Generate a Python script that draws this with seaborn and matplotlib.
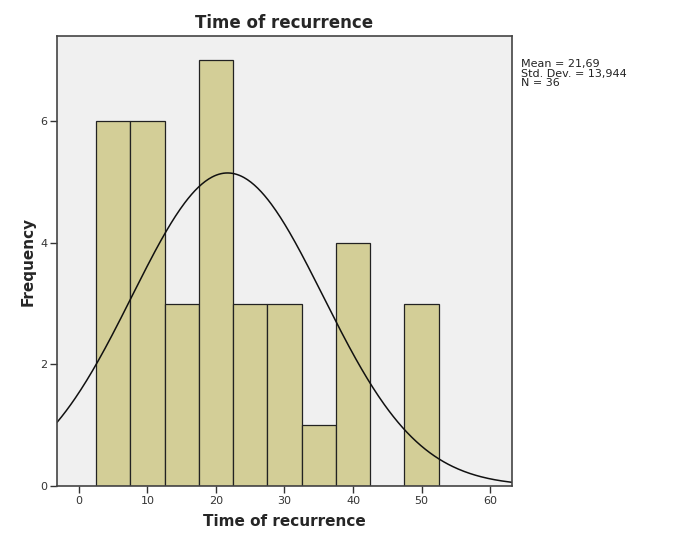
import numpy as np
import pandas as pd
import seaborn as sns
import matplotlib
matplotlib.use('Agg')
import matplotlib.pyplot as plt

## histogram data (bin width 5)
bin_edges = [2.5, 7.5, 12.5, 17.5, 22.5, 27.5, 32.5, 37.5, 42.5, 47.5, 52.5]
counts    = [6, 6, 3, 7, 3, 3, 1, 4, 0, 3]
mean, std, n = 21.69, 13.944, 36

sns.set_style('white')
plt.rcParams['font.family'] = ['DejaVu Sans']

centers = [(a + b) / 2 for a, b in zip(bin_edges[:-1], bin_edges[1:])]
df = pd.DataFrame({'x': centers, 'w': counts})

fig = plt.figure(figsize=(6.85, 5.48), dpi=100)
ax = fig.add_axes([0.0832, 0.1131, 0.6642, 0.8209])
ax.set_facecolor('#f0f0f0')

sns.histplot(data=df, x='x', weights='w', bins=bin_edges, ax=ax,
             color='#d3ce97', alpha=1, edgecolor='#222222', linewidth=0.9)

## fitted normal curve scaled to counts
xs = np.linspace(-3.2, 63.2, 400)
ys = n * 5 / (std * np.sqrt(2 * np.pi)) * np.exp(-0.5 * ((xs - mean) / std) ** 2)
ax.plot(xs, ys, color='#111111', lw=1.1)

ax.set_xlim(-3.2, 63.2)
ax.set_ylim(0, 7.4)
ax.set_xticks([0, 10, 20, 30, 40, 50, 60])
ax.set_yticks([0, 2, 4, 6])
ax.tick_params(axis='both', direction='out', length=5, width=1, color='#333333',
               labelsize=8, labelcolor='#333333', left=True, bottom=True, pad=2)
for s in ax.spines.values():
  s.set_color('#444444')
  s.set_linewidth(1.2)

ax.set_xlabel('Time of recurrence', fontsize=11, fontweight='bold', labelpad=6)
ax.set_ylabel('Frequency', fontsize=11, fontweight='bold', labelpad=3)
ax.set_title('Time of recurrence', fontsize=12, fontweight='bold', pad=6)

fig.text(0.760, 0.892, 'Mean = 21,69\nStd. Dev. = 13,944\nN = 36',
         fontsize=8, va='top', ha='left', linespacing=0.95, color='#222222')

plt.savefig('out.png', dpi=100)
